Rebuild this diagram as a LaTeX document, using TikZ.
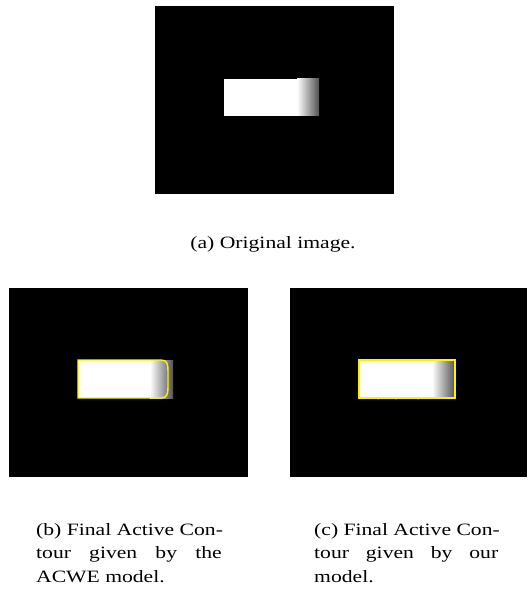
\documentclass[tikz,border=0pt]{standalone}
\usepackage{graphicx}
\usepackage{fontspec}
\setmainfont{Liberation Serif}
\newcommand{\widetxt}[1]{\scalebox{1.25}[1]{#1}}
\begin{document}
\begin{tikzpicture}[x=1pt,y=-1pt,
  photo/.style={fill=black},
  bright/.style={fill=white},
  fade/.style={left color=white,right color=black!68},
  contour/.style={draw=yellow,line width=1.4pt},
  captxt/.style={inner sep=0pt,anchor=base west,font=\fontsize{17.3}{20}\selectfont}]
\useasboundingbox[fill=white] (0,0) rectangle (527,591);
% (a)
\fill[photo] (155,6) rectangle (394,194);
\fill[bright] (224,79) rectangle (298,116);
\shade[fade] (297,79) rectangle (319,116);
\node[captxt,anchor=base] (capa) at (273,248) {\widetxt{(a) Original image.}};
% (b)
\fill[photo] (9,288) rectangle (248,477);
\fill[bright] (78,360) rectangle (151,398);
\shade[fade] (150,360) rectangle (173,398);
\draw[contour] (78,360) -- (161,360) .. controls (167,360) and (168,364) .. (168,371)
  -- (168,387) .. controls (168,394) and (167,398) .. (161,398) -- (78,398) -- cycle;
\node[captxt] (capb1) at (36,535) {\widetxt{(b) Final Active Con-}};
\node[captxt] (capb2) at (36,558.5) {\widetxt{\makebox[148.4pt][s]{tour given by the}}};
\node[captxt] (capb3) at (36,582) {\widetxt{ACWE model.}};
% (c)
\fill[photo] (290,288) rectangle (527,477);
\fill[bright] (359,360) rectangle (433,398);
\shade[fade] (432,360) rectangle (455,398);
\draw[contour] (359,360) rectangle (455,398);
\draw[contour,line width=1pt] (375,398) -- (379,398.8) (392,398) -- (397,398.8) (414,398) -- (419,398.8);
\node[captxt] (capc1) at (314,535) {\widetxt{(c) Final Active Con-}};
\node[captxt] (capc2) at (314,558.5) {\widetxt{\makebox[147.2pt][s]{tour given by our}}};
\node[captxt] (capc3) at (314,582) {\widetxt{model.}};
\end{tikzpicture}
\end{document}
